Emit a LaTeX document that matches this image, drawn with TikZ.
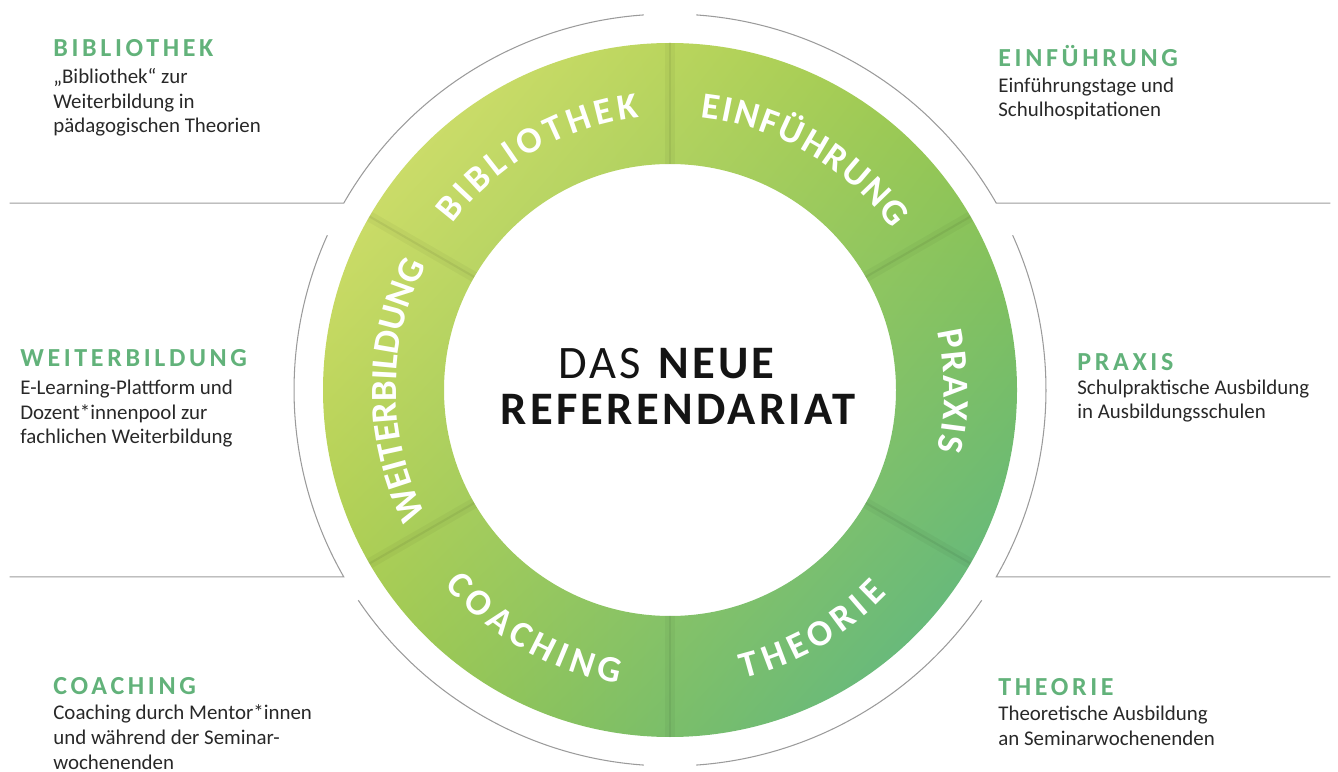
\documentclass[tikz,border=0pt]{standalone}
\usepackage{fontspec}
\setmainfont{Carlito}
\newfontfamily\headfont[LetterSpace=14]{Carlito}
\newfontfamily\ringfont{Carlito}
\newfontfamily\titlefont[LetterSpace=7]{Carlito}
\usetikzlibrary{decorations.text, shadings}

\definecolor{headgreen}{RGB}{98,178,122}
\definecolor{bodygray}{RGB}{40,40,40}
\definecolor{titleblack}{RGB}{20,20,20}
\definecolor{ringUL}{RGB}{222,228,115}
\definecolor{ringUR}{RGB}{150,198,72}
\definecolor{ringLL}{RGB}{160,200,72}
\definecolor{ringLR}{RGB}{84,180,140}
\definecolor{framegray}{RGB}{155,155,155}

\newcommand\ringtext{\ringfont\bfseries\fontsize{21}{21}\selectfont\color{white}}

\tikzset{
  heading/.style={anchor=base west, inner sep=0pt, text=headgreen,
    font=\headfont\bfseries\fontsize{14.8}{16}\selectfont},
  % base of a text with several lines is its last line
  bodytext/.style={anchor=base west, inner sep=0pt, align=left, text=bodygray,
    font=\fontsize{11.9}{13.95}\selectfont},
  frame/.style={framegray, line width=0.6pt},
  % #1 = extra room before each letter, #2 = the word
  ringlabel/.style 2 args={decorate, decoration={text along path, text align=center,
    text={|\ringtext\kern#1\relax|#2}}},
}

\begin{document}
\begin{tikzpicture}[x=0.02cm, y=0.02cm]
  \useasboundingbox (0,0) rectangle (1338,771);
  \coordinate (C) at (670,381);

  % Draw the green ring
  \shade[even odd rule, upper left=ringUL, upper right=ringUR,
         lower left=ringLL, lower right=ringLR]
    (C) circle[radius=347] (C) circle[radius=226];

  % Soft dividers between the six parts
  \begin{scope}[even odd rule]
    \clip (C) circle[radius=347] (C) circle[radius=226];
    \foreach \a in {90,30,-30,-90,-150,150}{
      \draw[black, opacity=0.035, line width=6pt] (C) ++(\a:220) -- ++(\a:130);
      \draw[black, opacity=0.06, line width=1.2pt] (C) ++(\a:220) -- ++(\a:130);
    }
  \end{scope}

  % Labels along the ring
  \path[ringlabel={2.5pt}{BIBLIOTHEK}] (C) ++(170:274) arc[start angle=170, end angle=70, radius=274];
  \path[ringlabel={1.2pt}{EINFÜHRUNG}] (C) ++(110:274) arc[start angle=110, end angle=10, radius=274];
  \path[ringlabel={1.1pt}{PRAXIS}] (C) ++(45:274) arc[start angle=45, end angle=-45, radius=274];
  \path[ringlabel={0pt}{WEITERBILDUNG}] (C) ++(230:274) arc[start angle=230, end angle=130, radius=274];
  \path[ringlabel={3pt}{COACHING}] (C) ++(-170:298) arc[start angle=-170, end angle=-70, radius=298];
  \path[ringlabel={3.4pt}{THEORIE}] (C) ++(-110:298) arc[start angle=-110, end angle=-10, radius=298];

  % Thin frame round the ring, with the rules to the side texts
  \foreach \m in {1,-1}{
    \begin{scope}[shift={(C)}, xscale=\m]
      \draw[frame] (94:376) arc[start angle=94, end angle=150.2, radius=376] -- ++(-334,0);
      \draw[frame] (155.7:376) arc[start angle=155.7, end angle=209.8, radius=376] -- ++(-334,0);
      \draw[frame] (214:376) arc[start angle=214, end angle=266, radius=376];
    \end{scope}
  }

  % Title in the middle
  \node[anchor=base, inner sep=0pt, text=titleblack,
        font=\titlefont\fontsize{26.5}{26.5}\selectfont] (das) at (668,392) {DAS \textbf{NEUE}};
  \node[anchor=base, inner sep=0pt, text=titleblack,
        font=\titlefont\bfseries\fontsize{26.5}{26.5}\selectfont] (referendariat) at (678,346) {REFERENDARIAT};

  % Side texts, left
  \node[heading] (bibhead) at (53,714) {BIBLIOTHEK};
  \node[bodytext] (bibtext) at (53,638) {„Bibliothek“ zur\\Weiterbildung in\\pädagogischen Theorien};
  \node[heading] (weihead) at (20,404) {WEITERBILDUNG};
  \node[bodytext] (weitext) at (20,327) {E-Learning-Plattform und\\Dozent*innenpool zur\\fachlichen Weiterbildung};
  \node[heading] (coahead) at (53,77) {COACHING};
  \node[bodytext] (coatext) at (53,2) {Coaching durch Mentor*innen\\und während der Seminar-\\wochenenden};

  % Side texts, right
  \node[heading] (einhead) at (998,704) {EINFÜHRUNG};
  \node[bodytext] (eintext) at (998,654) {Einführungstage und\\Schulhospitationen};
  \node[heading] (prahead) at (1077,400) {PRAXIS};
  \node[bodytext] (pratext) at (1077,352) {Schulpraktische Ausbildung\\in Ausbildungsschulen};
  \node[heading] (theohead) at (998,76) {THEORIE};
  \node[bodytext] (theotext) at (998,26) {Theoretische Ausbildung\\an Seminarwochenenden};
\end{tikzpicture}
\end{document}
